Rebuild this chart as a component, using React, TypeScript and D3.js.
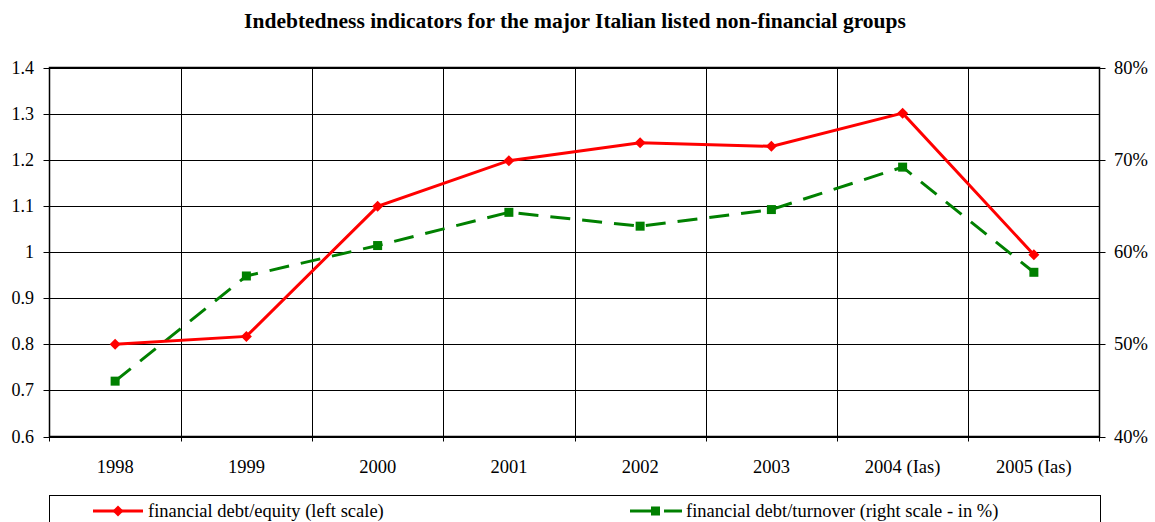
import React from "react";
import * as d3 from "d3";

const categories = ["1998", "1999", "2000", "2001", "2002", "2003", "2004 (Ias)", "2005 (Ias)"];
const debtEquity = [0.80, 0.817, 1.099, 1.198, 1.237, 1.229, 1.301, 0.994];
const debtTurnover = [46.0, 57.4, 60.7, 64.3, 62.8, 64.6, 69.2, 57.8];
const leftTicks = [0.6, 0.7, 0.8, 0.9, 1.0, 1.1, 1.2, 1.3, 1.4];
const rightTicks = [40, 50, 60, 70, 80];
const title = "Indebtedness indicators for the major Italian listed non-financial groups";
const legendLabels = ["financial debt/equity (left scale)", "financial debt/turnover (right scale - in %)"];

const W = 1155, H = 522;
const L = 49.5, R = 1099.5, T = 67.5, B = 436.5;
const FONT = "Liberation Serif";

export default function App() {
  const x = d3.scaleBand<string>().domain(categories).range([L, R]).padding(0);
  const yl = d3.scaleLinear().domain([0.6, 1.4]).range([B, T]);
  const yr = d3.scaleLinear().domain([40, 80]).range([B, T]);
  const cx = (c: string) => (x(c) as number) + x.bandwidth() / 2;

  const lineL = d3.line<number>().x((_, i) => cx(categories[i])).y((d) => yl(d));
  const lineR = d3.line<number>().x((_, i) => cx(categories[i])).y((d) => yr(d));

  const red = "#ff0000";
  const green = "#008000";
  const diamond = (px: number, py: number, s: number) =>
    `M${px},${py - s}L${px + s},${py}L${px},${py + s}L${px - s},${py}Z`;

  const gridX = categories.slice(1).map((c) => x(c) as number);
  const ts = { fontFamily: FONT };

  return (
    <svg width={W} height={H} style={{ position: "absolute", left: 0, top: 0, background: "#fff" }}>
      <rect x={0} y={0} width={W} height={H} fill="#fff" />
      <text x={575} y={28} textAnchor="middle" fontSize={21.5} fontWeight="bold" style={ts}>{title}</text>
      {leftTicks.map((t) => (
        <line key={"h" + t} x1={L} x2={R} y1={Math.round(yl(t)) + 0.5} y2={Math.round(yl(t)) + 0.5} stroke="#000" strokeWidth={1} />
      ))}
      {gridX.map((gx, i) => (
        <line key={"v" + i} x1={Math.round(gx) + 0.5} x2={Math.round(gx) + 0.5} y1={T} y2={B + 5} stroke="#000" strokeWidth={1} />
      ))}
      <rect x={L} y={T} width={R - L} height={B - T} fill="none" stroke="#000" strokeWidth={1.5} />
      <line x1={L} x2={L} y1={B} y2={B + 5} stroke="#000" />
      <line x1={R} x2={R} y1={B} y2={B + 5} stroke="#000" />
      {leftTicks.map((t) => (
        <g key={"lt" + t}>
          <line x1={L - 6} x2={L} y1={Math.round(yl(t)) + 0.5} y2={Math.round(yl(t)) + 0.5} stroke="#000" />
          <text x={34} y={yl(t) + 6} textAnchor="end" fontSize={18} style={ts}>{d3.format("")(t)}</text>
        </g>
      ))}
      {rightTicks.map((t) => (
        <g key={"rt" + t}>
          <line x1={R} x2={R + 6} y1={Math.round(yr(t)) + 0.5} y2={Math.round(yr(t)) + 0.5} stroke="#000" />
          <text x={1114} y={yr(t) + 6} textAnchor="start" fontSize={18.5} style={ts}>{t}%</text>
        </g>
      ))}
      {categories.map((c) => (
        <text key={"x" + c} x={cx(c)} y={473} textAnchor="middle" fontSize={18.5} style={ts}>{c}</text>
      ))}
      <path d={lineR(debtTurnover) || ""} fill="none" stroke={green} strokeWidth={3} strokeDasharray="20,12" />
      {debtTurnover.map((d, i) => (
        <rect key={"g" + i} x={cx(categories[i]) - 4.5} y={yr(d) - 4.5} width={9} height={9} fill={green} />
      ))}
      <path d={lineL(debtEquity) || ""} fill="none" stroke={red} strokeWidth={3} />
      {debtEquity.map((d, i) => (
        <path key={"r" + i} d={diamond(cx(categories[i]), yl(d), 5.5)} fill={red} />
      ))}
      <rect x={L} y={495.5} width={1051} height={40} fill="#fff" stroke="#000" strokeWidth={1} />
      <line x1={93} x2={143} y1={511} y2={511} stroke={red} strokeWidth={3} />
      <path d={diamond(118, 511, 5.5)} fill={red} />
      <text x={148} y={517} fontSize={18.5} style={ts}>{legendLabels[0]}</text>
      <line x1={630} x2={658} y1={511} y2={511} stroke={green} strokeWidth={3} />
      <line x1={664} x2={682} y1={511} y2={511} stroke={green} strokeWidth={3} />
      <rect x={651} y={506.5} width={9} height={9} fill={green} />
      <text x={686} y={517} fontSize={18.5} style={ts}>{legendLabels[1]}</text>
    </svg>
  );
}
